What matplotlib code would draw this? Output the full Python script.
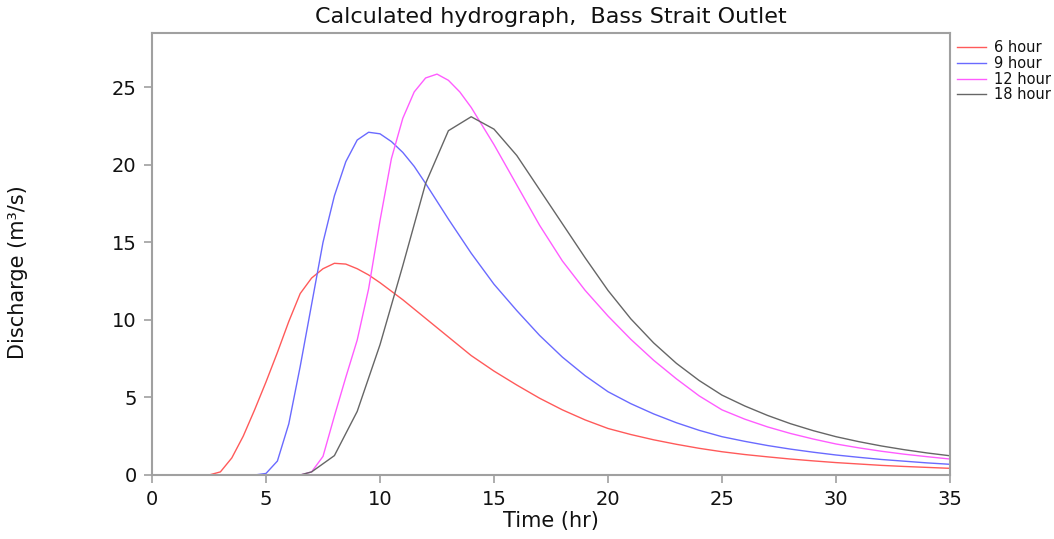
import matplotlib
matplotlib.use("Agg")
import matplotlib.pyplot as plt

plt.rcParams['font.family'] = ['DejaVu Sans']

t6 = [2.5, 3, 3.5, 4, 4.5, 5, 5.5, 6, 6.5, 7, 7.5, 8, 8.5, 9, 9.5, 10, 10.5, 11,
      12, 13, 14, 15, 16, 17, 18, 19, 20, 21, 22, 23, 24, 25, 26, 27, 28, 29, 30,
      31, 32, 33, 34, 35]
q6 = [0, 0.2, 1.1, 2.5, 4.2, 6.0, 7.9, 9.9, 11.7, 12.7, 13.3, 13.65, 13.6, 13.3,
      12.9, 12.4, 11.85, 11.3, 10.1, 8.9, 7.7, 6.7, 5.8, 4.95, 4.2, 3.55, 3.0,
      2.61, 2.27, 1.98, 1.72, 1.5, 1.32, 1.17, 1.03, 0.91, 0.8, 0.71, 0.62, 0.55,
      0.49, 0.43]

t9 = [4.5, 5, 5.5, 6, 6.5, 7, 7.5, 8, 8.5, 9, 9.5, 10, 10.5, 11, 11.5, 12, 13, 14,
      15, 16, 17, 18, 19, 20, 21, 22, 23, 24, 25, 26, 27, 28, 29, 30, 31, 32, 33,
      34, 35]
q9 = [0, 0.1, 0.9, 3.3, 7.0, 11.0, 15.0, 18.0, 20.2, 21.6, 22.1, 22.0, 21.5, 20.8,
      19.9, 18.8, 16.5, 14.3, 12.3, 10.6, 9.0, 7.6, 6.4, 5.37, 4.6, 3.94, 3.37,
      2.88, 2.47, 2.17, 1.9, 1.67, 1.47, 1.29, 1.14, 1.0, 0.89, 0.78, 0.69]

t12 = [6, 6.5, 7, 7.5, 8, 8.5, 9, 9.5, 10, 10.5, 11, 11.5, 12, 12.5, 13, 13.5, 14,
       14.5, 15, 16, 17, 18, 19, 20, 21, 22, 23, 24, 25, 26, 27, 28, 29, 30, 31,
       32, 33, 34, 35]
q12 = [0, 0.0, 0.2, 1.2, 3.8, 6.3, 8.7, 12.0, 16.4, 20.4, 23.0, 24.7, 25.6, 25.85,
       25.45, 24.7, 23.7, 22.5, 21.3, 18.7, 16.1, 13.8, 11.9, 10.25, 8.75, 7.4,
       6.2, 5.1, 4.2, 3.6, 3.1, 2.68, 2.32, 2.0, 1.75, 1.53, 1.34, 1.18, 1.03]

t18 = [6.5, 7, 8, 9, 10, 11, 12, 13, 14, 15, 16, 17, 18, 19, 20, 21, 22, 23, 24,
       25, 26, 27, 28, 29, 30, 31, 32, 33, 34, 35]
q18 = [0, 0.2, 1.25, 4.1, 8.4, 13.5, 18.8, 22.2, 23.1, 22.3, 20.6, 18.4, 16.2,
       14.0, 11.9, 10.07, 8.52, 7.2, 6.09, 5.15, 4.45, 3.84, 3.31, 2.86, 2.47,
       2.15, 1.87, 1.63, 1.42, 1.24]

labels = ["6 hour", "9 hour", "12 hour", "18 hour"]
colors = ["#ff5a5a", "#6a6aff", "#ff5cff", "#666666"]
xticks = [0, 5, 10, 15, 20, 25, 30, 35]
yticks = [0, 5, 10, 15, 20, 25]

fig = plt.figure(figsize=(10.54, 5.39), dpi=100)
ax = fig.add_axes([152 / 1054, 1 - 475 / 539, (950 - 152) / 1054, (475 - 33) / 539])

for tt, qq, lab, c in zip([t6, t9, t12, t18], [q6, q9, q12, q18], labels, colors):
    ax.plot(tt, qq, color=c, lw=1.0, label=lab)

ax.set_xlim(0, 35)
ax.set_ylim(0, 28.5)
ax.set_xticks(xticks)
ax.set_yticks(yticks)
for s in ax.spines.values():
    s.set_color("#a0a0a0")
    s.set_linewidth(1.5)
ax.tick_params(direction="out", length=6, width=1.2, color="#a0a0a0",
               labelsize=14, pad=5, labelcolor="#111111")

ax.set_title("Calculated hydrograph,  Bass Strait Outlet", fontsize=16, pad=7,
             color="#111111")
ax.set_xlabel("Time (hr)", fontsize=15, labelpad=1, color="#111111")
ax.set_ylabel("Discharge (m³/s)", fontsize=15, color="#111111")
ax.yaxis.set_label_coords(-0.155, 0.46)

leg = ax.legend(loc="upper left", bbox_to_anchor=(1.0, 1.0), frameon=False,
                fontsize=10.5, handlelength=2.0, handletextpad=0.5,
                labelspacing=0.05, borderaxespad=0.3, borderpad=0.2)
for txt in leg.get_texts():
    txt.set_color("#111111")

fig.savefig("out.png", dpi=100)
